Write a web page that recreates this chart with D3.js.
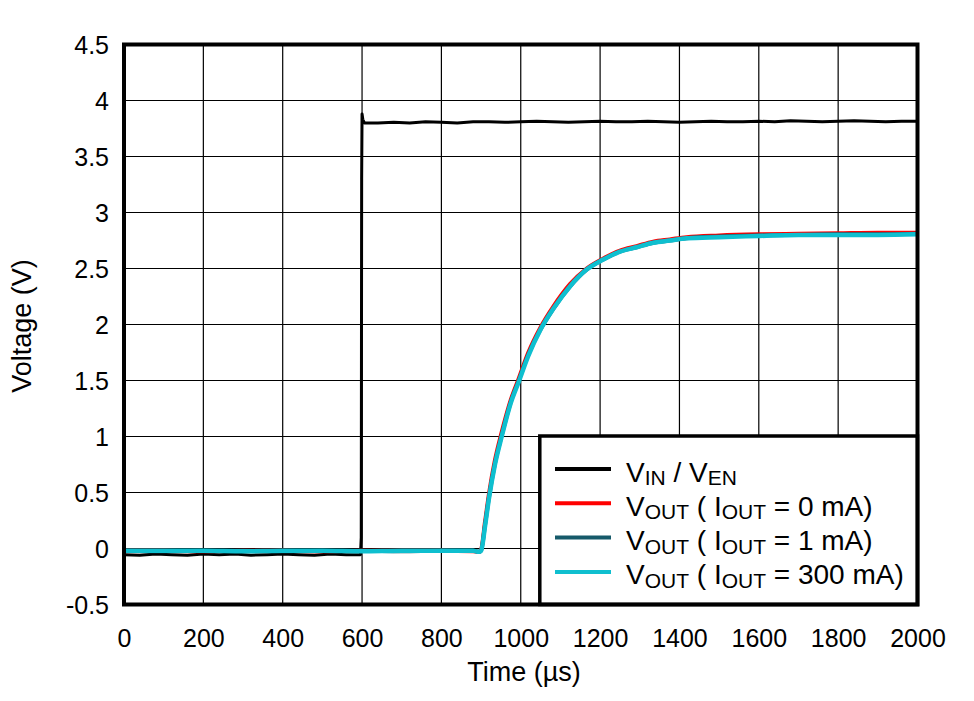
<!DOCTYPE html>
<html>
<head>
<meta charset="utf-8">
<script src="https://cdn.jsdelivr.net/npm/d3@7"></script>
<style>
  body { margin: 0; background: #fff; }
  svg text { font-family: "Liberation Sans", Arial, sans-serif; fill: #000; }
</style>
</head>
<body>
<div class="chart"></div>
<script>
// tick labels
var xTicks = [0, 200, 400, 600, 800, 1000, 1200, 1400, 1600, 1800, 2000];
var yTicks = [-0.5, 0, 0.5, 1, 1.5, 2, 2.5, 3, 3.5, 4, 4.5];

// V_IN / V_EN trace (time in us, volts)
var vinTime = [0, 40, 80, 120, 160, 200, 240, 280, 320, 360, 400, 440, 480, 520, 560, 596,
  598, 599, 600, 602, 606, 640, 680, 720, 760, 800, 840, 880, 920, 960, 1000, 1040, 1080,
  1120, 1160, 1200, 1240, 1280, 1320, 1360, 1400, 1440, 1480, 1520, 1560, 1600, 1640,
  1680, 1720, 1760, 1800, 1840, 1880, 1920, 1960, 2000];
var vinVals = [-0.055, -0.06, -0.05, -0.055, -0.06, -0.05, -0.055, -0.05, -0.06, -0.055,
  -0.05, -0.055, -0.06, -0.05, -0.055, -0.055,
  0.1, 3.3, 3.88, 3.83, 3.80, 3.80, 3.805, 3.80, 3.81, 3.805, 3.80, 3.81, 3.81, 3.805,
  3.81, 3.815, 3.81, 3.805, 3.81, 3.815, 3.81, 3.81, 3.815, 3.81, 3.805, 3.81, 3.815,
  3.81, 3.81, 3.815, 3.81, 3.82, 3.815, 3.81, 3.815, 3.82, 3.815, 3.81, 3.815, 3.815];

// V_OUT traces share one time axis
var voutTime = [0, 100, 200, 300, 400, 500, 600, 700, 800, 880, 895, 900, 910, 920, 935,
  952, 975, 994, 1019, 1049, 1082, 1124, 1166, 1208, 1250, 1292, 1334, 1376, 1418, 1500,
  1600, 1700, 1800, 1900, 2000];
var vout0mA = [-0.02, -0.02, -0.025, -0.02, -0.02, -0.025, -0.02, -0.02, -0.02, -0.025,
  -0.03, -0.01, 0.24, 0.49, 0.79, 1.04, 1.33, 1.51, 1.75, 1.97, 2.16, 2.36, 2.50, 2.59,
  2.66, 2.70, 2.74, 2.76, 2.78, 2.795, 2.805, 2.81, 2.815, 2.82, 2.82];
var vout1mA = [-0.02, -0.025, -0.02, -0.02, -0.025, -0.02, -0.02, -0.025, -0.02, -0.02,
  -0.03, -0.02, 0.21, 0.46, 0.76, 1.01, 1.31, 1.49, 1.73, 1.95, 2.14, 2.34, 2.49, 2.58,
  2.65, 2.69, 2.73, 2.75, 2.77, 2.785, 2.795, 2.80, 2.805, 2.805, 2.81];
var vout300mA = [-0.02, -0.02, -0.02, -0.025, -0.02, -0.02, -0.025, -0.02, -0.02, -0.02,
  -0.03, -0.02, 0.2, 0.45, 0.75, 1.0, 1.3, 1.48, 1.72, 1.95, 2.14, 2.34, 2.49, 2.58,
  2.65, 2.69, 2.73, 2.75, 2.77, 2.78, 2.79, 2.80, 2.80, 2.80, 2.805];

var svgWidth = 974;
var svgHeight = 701;

var margin = { top: 44.5, right: 56.5, bottom: 96.5, left: 124 };
var width = svgWidth - margin.left - margin.right;
var height = svgHeight - margin.top - margin.bottom;

var svg = d3.select(".chart")
  .append("svg")
  .attr("width", svgWidth)
  .attr("height", svgHeight);

var chartGroup = svg.append("g")
  .attr("transform", `translate(${margin.left}, ${margin.top})`);

var xScale = d3.scaleLinear().domain([0, 2000]).range([0, width]);
var yScale = d3.scaleLinear().domain([-0.5, 4.5]).range([height, 0]);

// grid
chartGroup.selectAll(".xgrid")
  .data(xTicks)
  .enter()
  .append("line")
  .attr("x1", d => xScale(d))
  .attr("x2", d => xScale(d))
  .attr("y1", 0)
  .attr("y2", height)
  .attr("stroke", "#000")
  .attr("stroke-width", 1.2);

chartGroup.selectAll(".ygrid")
  .data(yTicks)
  .enter()
  .append("line")
  .attr("x1", 0)
  .attr("x2", width)
  .attr("y1", d => yScale(d))
  .attr("y2", d => yScale(d))
  .attr("stroke", "#000")
  .attr("stroke-width", 1.2);

// axes (labels only)
var bottomAxis = d3.axisBottom(xScale)
  .tickValues(xTicks)
  .tickFormat(d => String(d))
  .tickSize(0)
  .tickPadding(25);
var leftAxis = d3.axisLeft(yScale)
  .tickValues(yTicks)
  .tickFormat(d => String(d))
  .tickSize(0)
  .tickPadding(15);

var xAxisG = chartGroup.append("g")
  .attr("transform", `translate(0, ${height})`)
  .call(bottomAxis);
var yAxisG = chartGroup.append("g").call(leftAxis);

[xAxisG, yAxisG].forEach(function (g) {
  g.select(".domain").remove();
  g.selectAll("text")
    .attr("font-size", 25)
    .attr("font-family", "Liberation Sans, Arial, sans-serif")
    .attr("fill", "#000");
});
yAxisG.selectAll("text").attr("dy", "0.37em");
xAxisG.selectAll("text").attr("dy", "0.69em");

// traces
function makeLine(times) {
  return d3.line()
    .x((d, i) => xScale(times[i]))
    .y(d => yScale(d));
}

var voutSeries = [
  { vals: vout0mA, color: "#ff0000", w: 4 },
  { vals: vout1mA, color: "#165a6a", w: 4 },
  { vals: vout300mA, color: "#0fbfcf", w: 4.5 }
];

chartGroup.append("path")
  .attr("d", makeLine(vinTime)(vinVals))
  .attr("fill", "none")
  .attr("stroke", "#000")
  .attr("stroke-width", 3)
  .attr("stroke-linejoin", "round");

voutSeries.forEach(function (s) {
  chartGroup.append("path")
    .attr("d", makeLine(voutTime).curve(d3.curveMonotoneX)(s.vals))
    .attr("fill", "none")
    .attr("stroke", s.color)
    .attr("stroke-width", s.w)
    .attr("stroke-linejoin", "round");
});

// legend
var legendX = xScale(1048);
var legendY = yScale(1.0) - 0.5;
chartGroup.append("rect")
  .attr("x", legendX)
  .attr("y", legendY)
  .attr("width", width - legendX)
  .attr("height", height - legendY)
  .attr("fill", "#fff")
  .attr("stroke", "#000")
  .attr("stroke-width", 3.5);

var legendItems = [
  { color: "#000", parts: [["V", 0], ["IN", 1], [" / V", 0], ["EN", 1]] },
  { color: "#ff0000", parts: [["V", 0], ["OUT", 1], [" ( I", 0], ["OUT", 1], [" = 0 mA)", 0]] },
  { color: "#165a6a", parts: [["V", 0], ["OUT", 1], [" ( I", 0], ["OUT", 1], [" = 1 mA)", 0]] },
  { color: "#0fbfcf", parts: [["V", 0], ["OUT", 1], [" ( I", 0], ["OUT", 1], [" = 300 mA)", 0]] }
];

legendItems.forEach(function (item, i) {
  var base = 437 + i * 34.3 - margin.top;
  chartGroup.append("line")
    .attr("x1", 555 - margin.left)
    .attr("x2", 611 - margin.left)
    .attr("y1", base + 32)
    .attr("y2", base + 32)
    .attr("stroke", item.color)
    .attr("stroke-width", 4);
  var t = chartGroup.append("text")
    .attr("x", 626 - margin.left)
    .attr("y", base + 44.5)
    .attr("font-size", 28);
  var shifted = false;
  item.parts.forEach(function (p) {
    var ts = t.append("tspan").text(p[0]);
    if (p[1] && !shifted) { ts.attr("font-size", 21).attr("dy", 3.5); shifted = true; }
    else if (p[1]) { ts.attr("font-size", 21); }
    else if (shifted) { ts.attr("dy", -3.5); shifted = false; }
  });
});

// frame
chartGroup.append("rect")
  .attr("width", width)
  .attr("height", height)
  .attr("fill", "none")
  .attr("stroke", "#000")
  .attr("stroke-width", 4);

// axis titles
svg.append("text")
  .attr("x", 524)
  .attr("y", 681)
  .attr("text-anchor", "middle")
  .attr("font-size", 27)
  .text("Time (µs)");

svg.append("text")
  .attr("transform", "translate(31, 326) rotate(-90)")
  .attr("text-anchor", "middle")
  .attr("font-size", 27)
  .text("Voltage (V)");
</script>
</body>
</html>
